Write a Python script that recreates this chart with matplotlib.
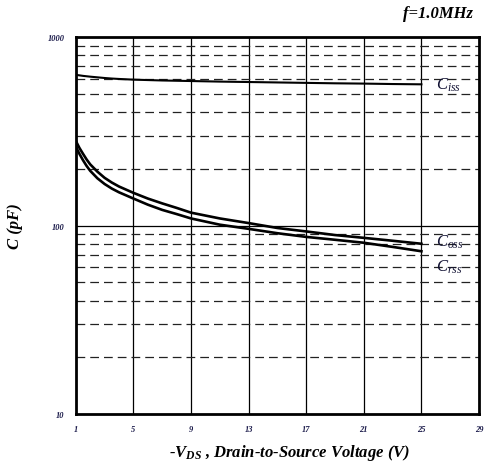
import matplotlib
matplotlib.use('Agg')
import matplotlib.pyplot as plt
import numpy as np

# capacitance vs -VDS
vds = [1, 1.25, 1.5, 1.75, 2, 2.5, 3, 3.5, 4, 5, 6, 7, 8, 9, 11, 13, 15, 17, 19, 21, 23, 25]
ciss = [630, 626, 622, 619, 616, 611, 606, 602, 599, 594, 591, 588, 586, 584, 580, 577, 574, 571, 568, 566, 563, 561]
coss = [281, 258, 240, 224, 211, 193, 179, 169, 161, 149, 139, 131, 124, 117, 109, 103, 97, 93, 89, 86, 83, 80]
crss = [262, 240, 222, 207, 195, 178, 166, 157, 150, 139, 129, 121, 115, 109, 101, 96, 91, 87, 84, 81, 77, 73]

xticks = [1, 5, 9, 13, 17, 21, 25, 29]
yticks = [10, 100, 1000]
minor_y = [20, 30, 40, 50, 60, 70, 80, 90, 200, 300, 400, 500, 600, 700, 800, 900]

plt.rcParams['font.family'] = 'Liberation Serif'
plt.rcParams['mathtext.fontset'] = 'custom'
plt.rcParams['mathtext.rm'] = 'Liberation Serif'
plt.rcParams['mathtext.it'] = 'Liberation Serif:italic'
plt.rcParams['mathtext.bf'] = 'Liberation Serif:bold:italic'

fig = plt.figure(figsize=(4.86, 4.64), dpi=100)
ax = fig.add_axes([0.156, 0.1056, 0.8296, 0.8125])

ax.set_yscale('log')
ax.set_xlim(1, 29)
ax.set_ylim(10, 1000)

# grid
for xv in xticks[1:-1]:
    ax.axvline(xv, color='black', lw=0.9, zorder=1)
ax.axhline(100, color='black', lw=0.9, zorder=1)
for yv in minor_y:
    ax.axhline(yv, color='#222222', lw=0.9, ls=(0, (7, 4)), zorder=1)

ax.plot(vds, ciss, color='black', lw=1.5, zorder=3)
ax.plot(vds, coss, color='black', lw=1.9, zorder=3)
ax.plot(vds, crss, color='black', lw=1.9, zorder=3)

ax.set_xticks(xticks)
ax.set_xticklabels([str(v) for v in xticks])
ax.set_yticks(yticks)
ax.set_yticklabels([str(v) for v in yticks])
ax.yaxis.set_minor_locator(matplotlib.ticker.NullLocator())
ax.tick_params(length=0, labelsize=6, colors='#1a1a4a', pad=8)
for lab in ax.get_xticklabels() + ax.get_yticklabels():
    lab.set_fontweight('bold')
    lab.set_fontstyle('italic')

for s in ax.spines.values():
    s.set_linewidth(2)

ax.text(26.0, 561, r'$\mathit{C}_{\mathit{iss}}$', fontsize=12, va='center', ha='left', color='#111133')
ax.text(26.0, 82, r'$\mathit{C}_{\mathit{oss}}$', fontsize=12, va='center', ha='left', color='#111133')
ax.text(26.0, 61, r'$\mathit{C}_{\mathit{rss}}$', fontsize=12, va='center', ha='left', color='#111133')

ax.set_xlabel(r'-$\mathbf{V_{DS}}$ , Drain-to-Source Voltage (V)', fontsize=12,
              fontweight='bold', fontstyle='italic')
ax.xaxis.set_label_coords(0.53, -0.075)
ax.set_ylabel('C (pF)', fontsize=12, fontweight='bold', fontstyle='italic')
ax.yaxis.set_label_coords(-0.13, 0.5)

fig.text(0.973, 0.97, 'f=1.0MHz', fontsize=12, fontweight='bold', fontstyle='italic',
         ha='right', va='center')

fig.savefig('out.png', dpi=100)
